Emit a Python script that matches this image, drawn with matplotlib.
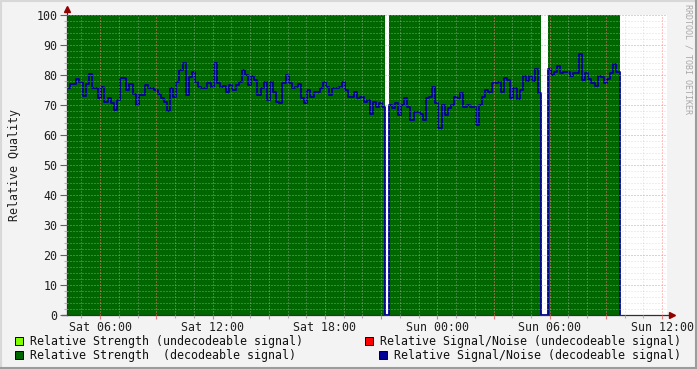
import numpy as np
import matplotlib
matplotlib.use("Agg")
import matplotlib.pyplot as plt
from matplotlib.patches import Rectangle

# time axis: hours since Sat 00:00, one sample every 10 minutes
start_hour = 4.227
step_hours = 1 / 6

# relative signal/noise (decodeable signal)
snr = [
    75.6, 77, 77, 78.7, 77.6, 73, 77, 80.5, 75.6, 75.6, 72.5, 76, 71, 72.2, 70.6, 68.3,
    71.7, 78.9, 78.9, 75, 77, 73.6, 70, 73.3, 73.3, 76.7, 75.6, 75.6, 75, 73.6, 72.2, 71,
    68, 75.6, 72.8, 77.8, 81.7,
    83.9, 73.3, 79.5, 80.9, 77.8, 76, 75.6, 75.6, 77.2, 76, 83.9, 77.2, 76, 76.4, 74.4, 76.7,
    75, 76.7, 77.8, 81.7, 80, 76.7, 79.8, 78.3, 73.3, 75.6, 77.8, 71.7, 77.8, 74.4, 71, 70.6,
    77.2, 80, 77.2, 75.6,
    76, 76.9, 72.2, 70.6, 75, 72.8, 74.4, 74.4, 75.6, 77.8, 76, 73.3, 75.6, 75.6, 76, 77.8,
    75, 72.8, 72.8, 74.4, 72.2, 72.8, 71, 71.7, 67, 71, 69.4, 70.6, 69.4, 0, 70, 68.9,
    70.6, 66.7, 70, 72.2, 69.4,
    65, 67.8, 67.8, 66.9, 65, 72.2, 72.8, 76, 70.6, 62.5, 70, 66.7, 68.9, 70, 72.8, 72.2,
    73.9, 69.4, 70, 69.4, 69.4, 63.3, 70, 72.8, 75, 74.4, 77.2, 77.2, 77.8, 74.4, 78.9, 78.3,
    72.2, 75.6, 72, 75,
    79.7, 78, 79.7, 78, 81.9, 73.9, 0, 0, 81.9, 80, 81.1, 83, 80.6, 81.1, 81.1, 79.7,
    80.8, 80.8, 87, 78.3, 80.8, 78.6, 77.4, 76.3, 79.7, 79.4, 77.4, 78.6, 80.8, 83.7, 81.1, 0,
]
# relative strength (decodeable signal)
strength = [100] * 102 + [0] + [100] * 49 + [0, 0] + [100] * 23 + [0]

tick_hours = [6, 12, 18, 24, 30, 36]
tick_labels = ["Sat 06:00", "Sat 12:00", "Sat 18:00", "Sun 00:00", "Sun 06:00", "Sun 12:00"]

legend_left = [("Relative Strength (undecodeable signal)", "#80FF00"),
               ("Relative Strength  (decodeable signal)", "#006600")]
legend_right = [("Relative Signal/Noise (undecodeable signal)", "#FF0000"),
                ("Relative Signal/Noise (decodeable signal)", "#000099")]

W, H = 697, 369
plt.rcParams['font.family'] = ['DejaVu Sans Mono']
fs = 8.37

fig = plt.figure(figsize=(W / 100, H / 100), dpi=100)
fig.patch.set_facecolor("#F3F3F3")
ax = fig.add_axes([67 / W, 54 / H, 600 / W, 300 / H])
ax.set_facecolor("white")

t = start_hour + np.arange(len(snr)) * step_hours
ax.fill_between(t, 0, strength, step="post", color="#006600", linewidth=0)
ax.plot(t, snr, drawstyle="steps-post", color="#000099", lw=1.3)

ax.set_xlim(start_hour, start_hour + 600 / 18.73)
ax.set_ylim(0, 100)

# grid: minor 1h / 2 units, major 3h / 10 units, drawn over the data
ax.set_xticks(np.arange(6, 37, 3))
ax.set_xticklabels([tick_labels[tick_hours.index(h)] if h in tick_hours else ""
                    for h in range(6, 37, 3)])
ax.set_xticks(np.arange(5, 37, 1), minor=True)
ax.set_yticks(np.arange(0, 101, 10))
ax.set_yticks(np.arange(0, 101, 2), minor=True)
ax.set_axisbelow(False)
ax.grid(which="minor", color="#C8C8C8", alpha=0.3, lw=0.72, linestyle=(0, (2, 2)),
        antialiased=False)
ax.grid(which="major", color="#FF8080", alpha=0.45, lw=0.72, linestyle=(0, (2, 2)),
        antialiased=False)

ax.tick_params(axis="x", which="major", length=3, width=0.8, color="#E08080",
               labelsize=fs, pad=1, labelcolor="#202020")
ax.tick_params(axis="x", which="minor", length=2, width=0.8, color="#B0B0B0")
ax.tick_params(axis="y", which="major", length=5, width=0.8, color="#606060",
               labelsize=fs, pad=2, labelcolor="#202020")
ax.tick_params(axis="y", which="minor", length=2, width=0.8, color="#B0B0B0")
for s in ax.spines.values():
    s.set_visible(False)

# axis lines with arrows
ax.plot([0, 0], [0, 1.017], transform=ax.transAxes, color="#303030", lw=0.9, clip_on=False)
ax.plot([-0.008, 1.008], [0, 0], transform=ax.transAxes, color="#303030", lw=0.9, clip_on=False)
ax.plot([0], [1.02], marker="^", ms=4, color="#900000", transform=ax.transAxes, clip_on=False)
ax.plot([1.008], [0], marker=">", ms=4, color="#900000", transform=ax.transAxes, clip_on=False)

ax.set_ylabel("Relative Quality", fontsize=fs, color="#202020")
ax.yaxis.set_label_coords(-46 / 600, 0.5)

fig.text(688 / W, 1 - 4 / H, "RRDTOOL / TOBI OETIKER", rotation=270, fontsize=6,
         color="#A8A8A8", ha="center", va="top")

# legend
for row, (label, col) in enumerate(legend_left):
    yc = 341 + row * 14
    fig.patches.append(Rectangle((15 / W, 1 - (yc + 4) / H), 8 / W, 8 / H,
                                 transform=fig.transFigure, facecolor=col,
                                 edgecolor="black", lw=0.7))
    fig.text(30 / W, 1 - yc / H, label, fontsize=fs, va="center", ha="left", color="#101010")
for row, (label, col) in enumerate(legend_right):
    yc = 341 + row * 14
    sx = 365 if row == 0 else 379
    fig.patches.append(Rectangle((sx / W, 1 - (yc + 4) / H), 8 / W, 8 / H,
                                 transform=fig.transFigure, facecolor=col,
                                 edgecolor="black", lw=0.7))
    fig.text((sx + 15) / W, 1 - yc / H, label, fontsize=fs, va="center", ha="left",
             color="#101010")

# 3d-ish frame
fig.add_artist(plt.Line2D([0, 1], [1 - 1 / H, 1 - 1 / H], transform=fig.transFigure, color="#D8D8D8", lw=1.5))
fig.add_artist(plt.Line2D([1 / W, 1 / W], [0, 1], transform=fig.transFigure, color="#D8D8D8", lw=1.5))
fig.add_artist(plt.Line2D([0, 1], [1 / H, 1 / H], transform=fig.transFigure, color="#9C9C9C", lw=1.5))
fig.add_artist(plt.Line2D([1 - 1 / W, 1 - 1 / W], [0, 1], transform=fig.transFigure, color="#9C9C9C", lw=1.5))

fig.savefig("out.png", dpi=100, facecolor=fig.get_facecolor())
